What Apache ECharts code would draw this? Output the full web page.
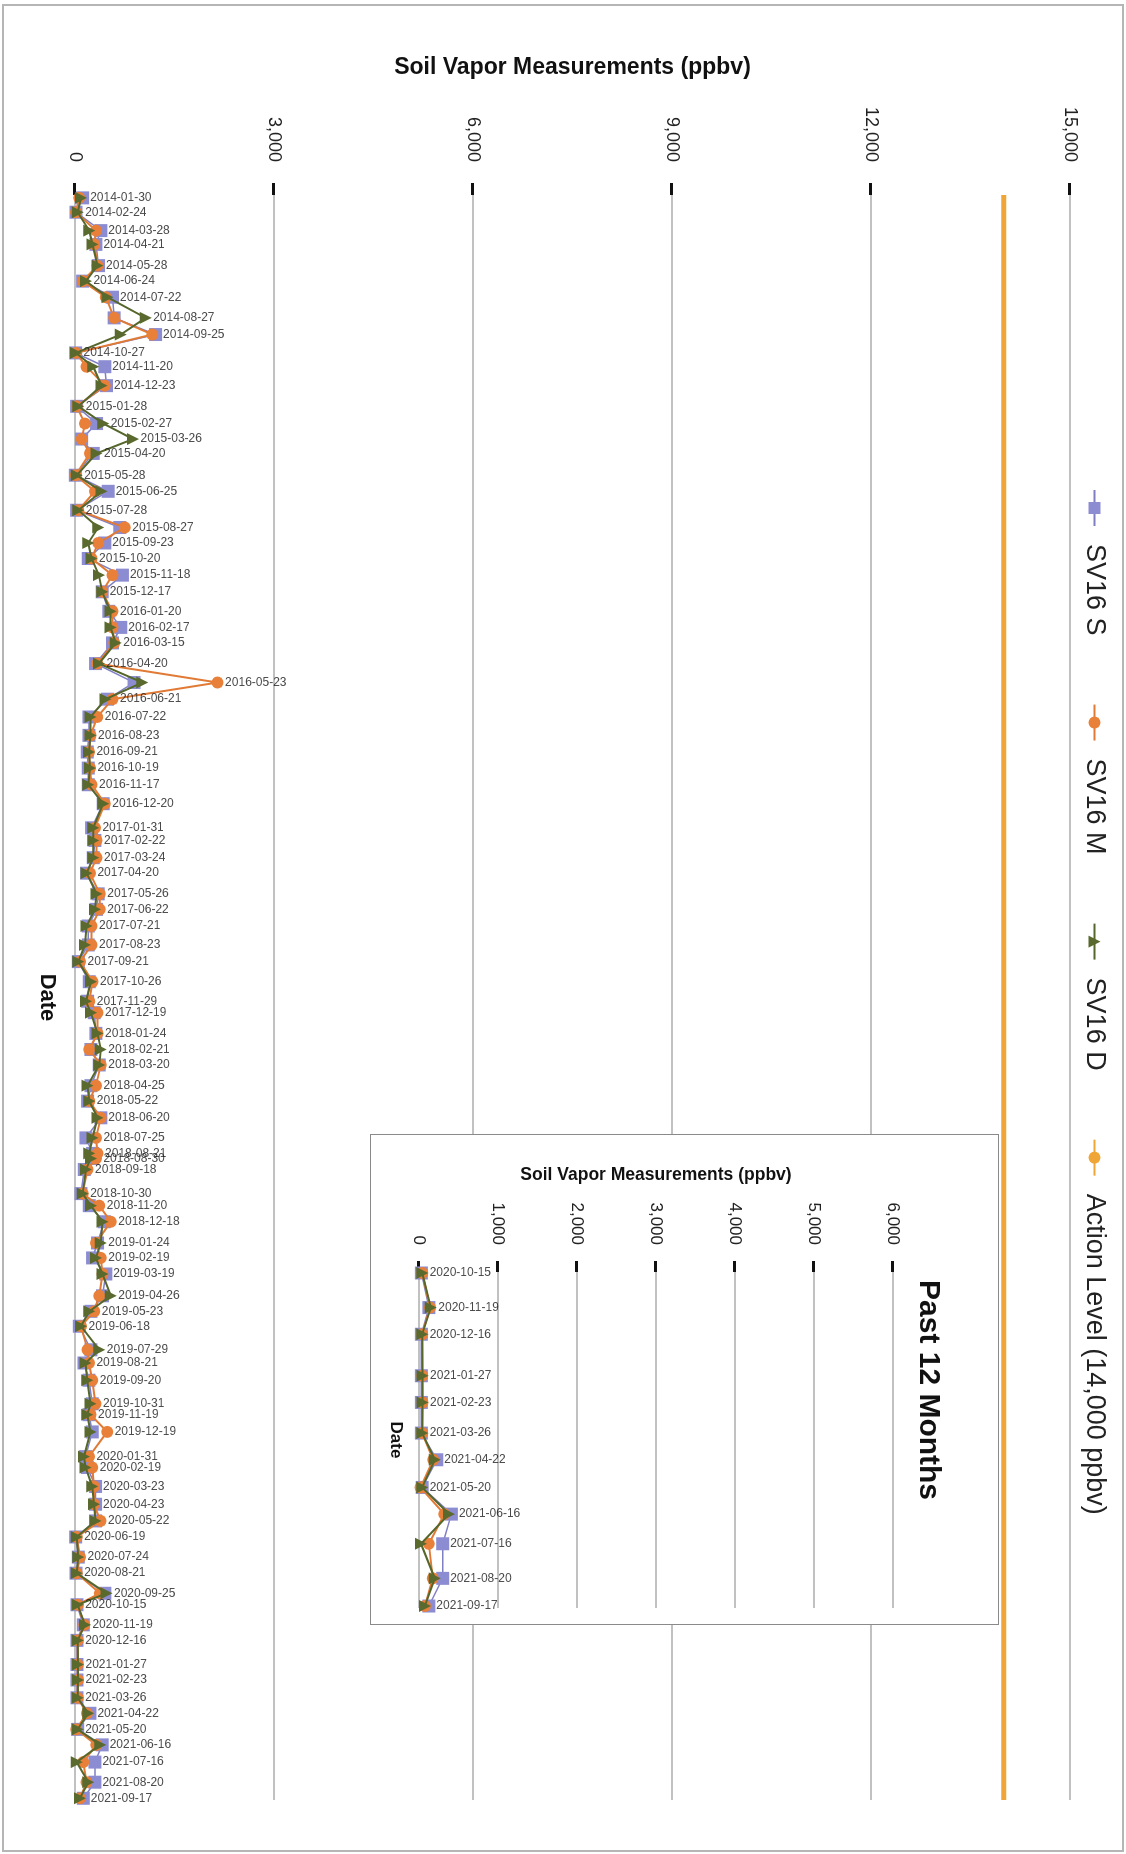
<!DOCTYPE html>
<html>
<head>
<meta charset="utf-8">
<script src="https://cdn.jsdelivr.net/npm/echarts@6/dist/echarts.min.js"></script>
<style>
html,body{margin:0;padding:0;width:1126px;height:1854px;overflow:hidden;background:#fff;}
#rot{position:absolute;left:0;top:0;width:1854px;height:1126px;transform-origin:0 0;transform:translate(1126px,0) rotate(90deg);}
#main{position:absolute;left:0;top:0;width:1854px;height:1126px;}
#inset{position:absolute;left:1134px;top:127px;width:489px;height:627px;border:1px solid #8a8a8a;background:#fff;}
#frame{position:absolute;left:2px;top:4px;width:1118px;height:1844px;border:2px solid #b5b5b5;pointer-events:none;}
</style>
</head>
<body>
<div id="rot">
  <div id="main"></div>
  <div id="inset"></div>
</div>
<div id="frame"></div>
<script>
const dates = [
 '2014-01-30','2014-02-24','2014-03-28','2014-04-21','2014-05-28','2014-06-24','2014-07-22','2014-08-27','2014-09-25','2014-10-27','2014-11-20','2014-12-23',
 '2015-01-28','2015-02-27','2015-03-26','2015-04-20','2015-05-28','2015-06-25','2015-07-28','2015-08-27','2015-09-23','2015-10-20','2015-11-18','2015-12-17',
 '2016-01-20','2016-02-17','2016-03-15','2016-04-20','2016-05-23','2016-06-21','2016-07-22','2016-08-23','2016-09-21','2016-10-19','2016-11-17','2016-12-20',
 '2017-01-31','2017-02-22','2017-03-24','2017-04-20','2017-05-26','2017-06-22','2017-07-21','2017-08-23','2017-09-21','2017-10-26','2017-11-29','2017-12-19',
 '2018-01-24','2018-02-21','2018-03-20','2018-04-25','2018-05-22','2018-06-20','2018-07-25','2018-08-21','2018-08-30','2018-09-18','2018-10-30','2018-11-20','2018-12-18',
 '2019-01-24','2019-02-19','2019-03-19','2019-04-26','2019-05-23','2019-06-18','2019-07-29','2019-08-21','2019-09-20','2019-10-31','2019-11-19','2019-12-19',
 '2020-01-31','2020-02-19','2020-03-23','2020-04-23','2020-05-22','2020-06-19','2020-07-24','2020-08-21','2020-09-25','2020-10-15','2020-11-19','2020-12-16',
 '2021-01-27','2021-02-23','2021-03-26','2021-04-22','2021-05-20','2021-06-16','2021-07-16','2021-08-20','2021-09-17'
];
const sv16S = [115,15,390,315,355,115,565,590,1215,10,450,475,
 25,325,100,275,5,500,25,675,450,200,715,410,
 510,690,565,310,890,490,210,210,185,200,200,425,
 250,300,275,175,350,325,200,200,50,215,190,290,
 315,240,365,240,190,390,165,265,265,140,90,215,440,
 340,265,465,415,240,65,240,135,210,260,210,260,
 160,185,310,310,310,10,50,15,450,30,125,30,
 30,30,30,225,40,410,300,300,125];
const sv16M = [65,15,315,290,340,115,465,590,1165,15,175,450,
 25,150,100,225,10,300,50,750,350,250,565,410,
 565,565,590,335,2150,565,335,235,210,225,250,450,
 300,325,325,225,375,375,250,250,75,265,215,340,
 340,215,390,315,215,390,315,340,315,190,115,365,540,
 315,390,415,365,290,90,190,210,260,310,235,485,
 210,260,285,285,385,25,75,25,375,40,140,40,
 40,45,40,180,20,320,125,175,75];
const sv16D = [90,40,215,265,340,165,490,1065,690,15,275,400,
 50,425,875,325,25,400,50,350,200,250,360,410,
 535,535,615,360,1015,460,235,235,210,225,200,425,
 275,275,275,175,325,300,175,150,50,240,165,240,
 340,390,365,190,215,340,265,215,240,165,115,240,415,
 390,315,415,540,215,90,365,160,185,235,185,235,
 135,160,260,285,310,25,50,25,475,40,150,40,
 45,45,40,200,40,380,25,200,75];
const actionLevel = 14000;
const mainAxis = {min: 0, max: 15000, step: 3000, dateMin: '2014-01-25', dateMax: '2021-09-20'};
const insetAxis = {min: 0, max: 6000, step: 1000, dateMin: '2020-10-14', dateMax: '2021-09-19'};
const insetCount = 12;

const FONT = '"Liberation Sans", Arial, Helvetica, sans-serif';
const fmtNum = v => v.toLocaleString('en-US');

function pairs(ds, vs){ return ds.map((d,i)=>[d, vs[i]]); }

function buildOption(ds, s, m, d, ax, cfg){
  const maxVals = ds.map((dt,i)=>[dt, Math.max(s[i], m[i], d[i])]);
  const series = [
    {name:'SV16 S', type:'line', data:pairs(ds,s), symbol:'rect', symbolSize:cfg.sq,
     itemStyle:{color:'#8c8cd2'}, lineStyle:{color:'#7f7fc4', width:1.5}, z:3},
    {name:'SV16 M', type:'line', data:pairs(ds,m), symbol:'circle', symbolSize:cfg.ci,
     itemStyle:{color:'#e8803a'}, lineStyle:{color:'#e07a35', width:2}, z:4},
    {name:'SV16 D', type:'line', data:pairs(ds,d), symbol:'triangle', symbolSize:cfg.tr,
     itemStyle:{color:'#5a6a2e'}, lineStyle:{color:'#56672b', width:2}, z:5},
    {name:'labels', type:'scatter', data:maxVals, symbolSize:1, silent:true,
     itemStyle:{color:'rgba(0,0,0,0)'}, z:6,
     label:{show:true, position:'top', distance:7, rotate:90, align:'left', verticalAlign:'middle',
            formatter:p=>p.data[0], fontSize:12, color:'#1a1a1a', fontFamily:FONT}}
  ];
  if (cfg.action) {
    series.push({name:'Action Level (14,000 ppbv)', type:'line', symbol:'none',
      data:[[ax.dateMin, actionLevel],[ax.dateMax, actionLevel]],
      itemStyle:{color:'#f0a637'}, lineStyle:{color:'#f0a637', width:5}, z:2});
  }
  return {
    animation:false,
    textStyle:{fontFamily:FONT},
    grid:cfg.grid,
    xAxis:{type:'time', min:ax.dateMin, max:ax.dateMax,
      axisLabel:{show:false}, axisTick:{show:false}, axisLine:{show:false}, splitLine:{show:false},
      name:'Date', nameLocation:'middle', nameGap:cfg.dateGap,
      nameTextStyle:{fontSize:cfg.dateFont, fontWeight:'bold', color:'#111', fontFamily:FONT}},
    yAxis:{type:'value', min:ax.min, max:ax.max, interval:ax.step,
      axisLabel:{formatter:fmtNum, fontSize:cfg.tickFont, color:'#222', margin:cfg.tickMargin, fontFamily:FONT},
      axisTick:{show:true, length:cfg.tickLen, lineStyle:{color:'#111', width:3}},
      axisLine:{show:false},
      splitLine:{lineStyle:{color:'#adadad', width:1.5}},
      name:'Soil Vapor Measurements (ppbv)', nameLocation:'middle', nameGap:cfg.nameGap,
      nameTextStyle:{fontSize:cfg.nameFont, fontWeight:'bold', color:'#111', fontFamily:FONT}},
    series:series
  };
}

const mainOpt = buildOption(dates, sv16S, sv16M, sv16D, mainAxis, {
  grid:{left:195, right:54, top:56, bottom:75},
  sq:13, ci:12, tr:12, action:true,
  dateGap:17, dateFont:22, tickFont:18, tickMargin:33, tickLen:12, nameGap:116, nameFont:23
});
mainOpt.legend = {top:13, left:484, itemGap:68, itemWidth:36, itemHeight:15,
  textStyle:{fontSize:27, color:'#222', fontFamily:FONT, padding:[0,0,0,13]},
  data:['SV16 S','SV16 M','SV16 D','Action Level (14,000 ppbv)']};

const n = dates.length;
const insetOpt = buildOption(dates.slice(n-insetCount), sv16S.slice(n-insetCount), sv16M.slice(n-insetCount), sv16D.slice(n-insetCount), insetAxis, {
  grid:{left:137, right:16, top:105, bottom:48},
  sq:13, ci:12, tr:12, action:false,
  dateGap:15, dateFont:17, tickFont:17, tickMargin:27, tickLen:11, nameGap:88, nameFont:17.5
});
insetOpt.title = {text:'Past 12 Months', left:140, top:50, textStyle:{fontSize:30, fontWeight:'bold', color:'#111', fontFamily:FONT}};

echarts.init(document.getElementById('main'), null, {width:1854, height:1126}).setOption(mainOpt);
echarts.init(document.getElementById('inset'), null, {width:489, height:627}).setOption(insetOpt);
</script>
</body>
</html>
